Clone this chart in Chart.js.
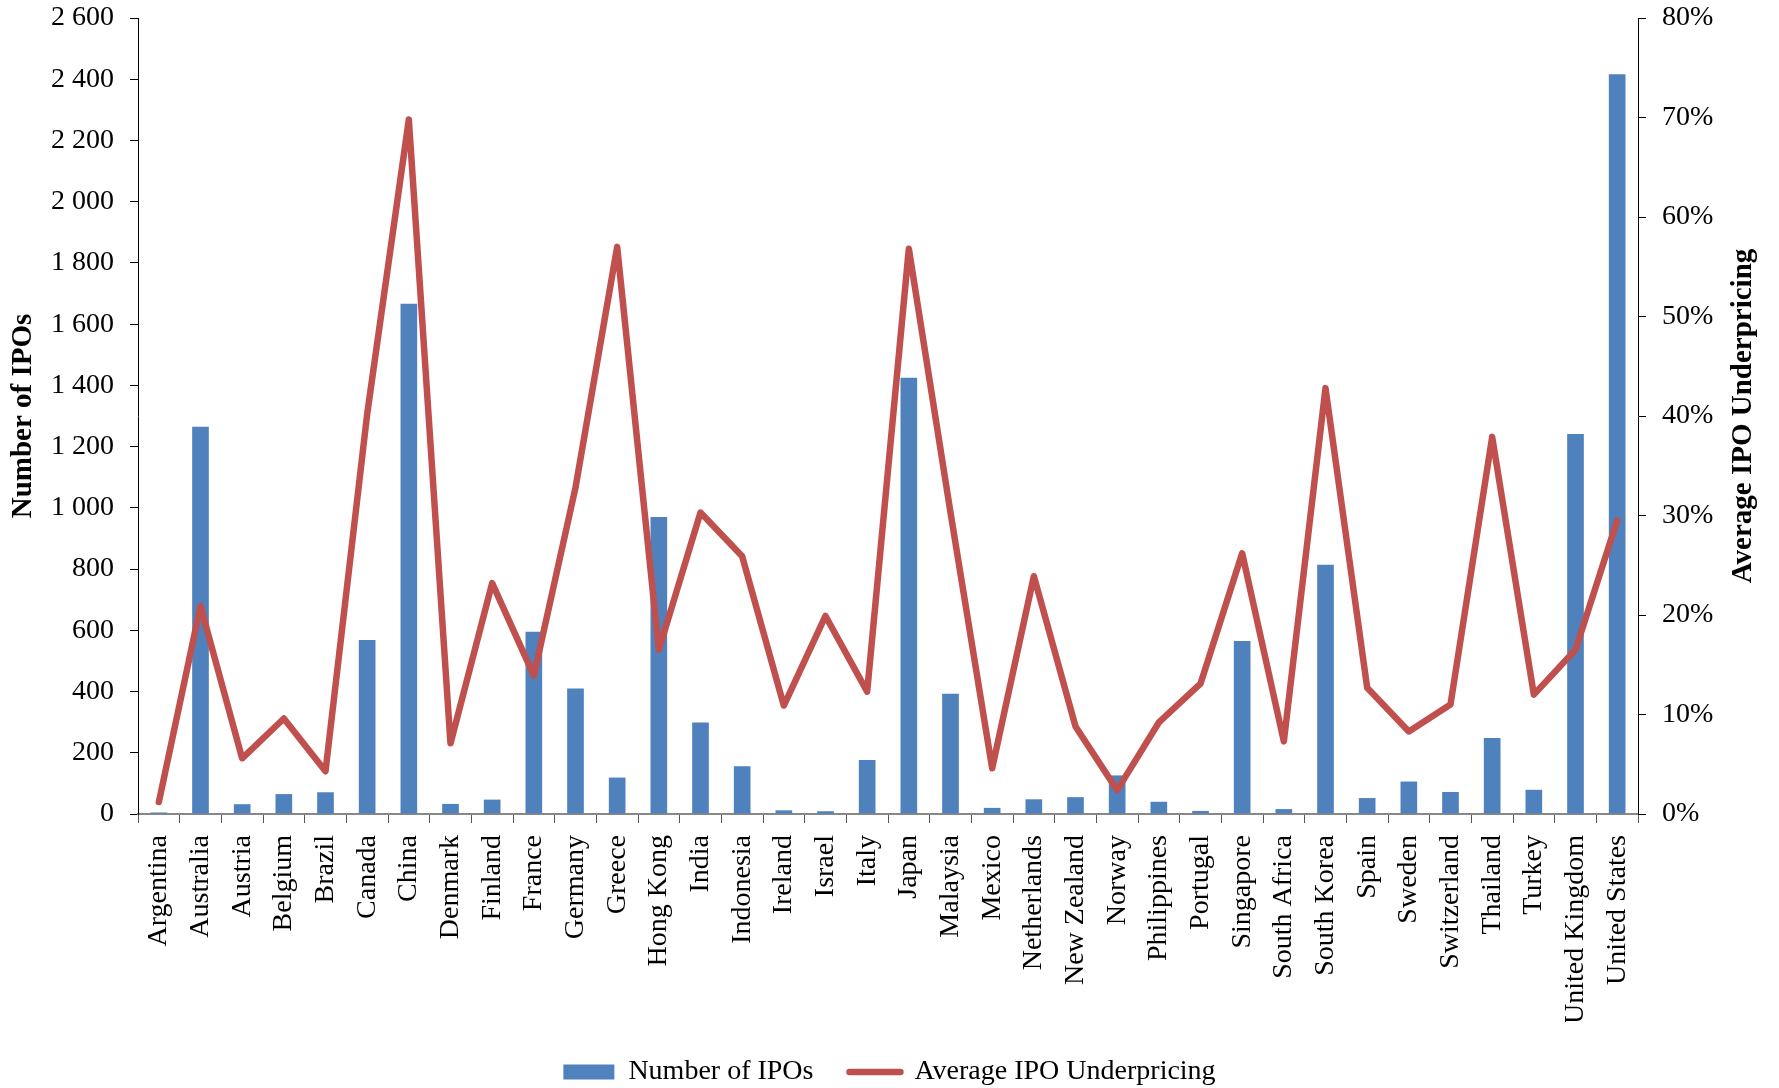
<!DOCTYPE html>
<html>
<head>
<meta charset="utf-8">
<script src="https://cdn.jsdelivr.net/npm/chart.js@4/dist/chart.umd.min.js"></script>
<style>
  html, body { margin: 0; padding: 0; background: #fff; }
  #wrap { width: 1779px; height: 1088px; position: relative; }
</style>
</head>
<body>
<div id="wrap"><canvas id="c"></canvas></div>
<script>
const countries = ['Argentina','Australia','Austria','Belgium','Brazil','Canada','China','Denmark','Finland','France','Germany','Greece','Hong Kong','India','Indonesia','Ireland','Israel','Italy','Japan','Malaysia','Mexico','Netherlands','New Zealand','Norway','Philippines','Portugal','Singapore','South Africa','South Korea','Spain','Sweden','Switzerland','Thailand','Turkey','United Kingdom','United States'];

const ipoCounts = [5, 1265, 32, 65, 71, 568, 1667, 33, 47, 595, 410, 119, 970, 299, 156, 12, 9, 176, 1425, 393, 20, 48, 55, 126, 40, 10, 565, 16, 814, 52, 106, 72, 248, 79, 1241, 2416];

// average first-day underpricing, in percent
const underpricing = [1.2, 20.9, 5.6, 9.6, 4.3, 40.2, 69.8, 7.1, 23.2, 13.9, 32.8, 57.0, 16.5, 30.3, 25.9, 10.9, 19.9, 12.3, 56.8, 30.3, 4.6, 23.9, 8.8, 2.4, 9.2, 13.1, 26.2, 7.3, 42.8, 12.7, 8.3, 11.0, 37.9, 12.0, 16.5, 29.5];

const seriesNames = ['Number of IPOs', 'Average IPO Underpricing'];
const rightTitle = 'Average IPO Underpricing';

const FONT = "'Liberation Serif', 'Times New Roman', serif";
const PLOT_BOTTOM = 814;
const PAD_BOTTOM = -8;

const rightTitlePlugin = {
  id: 'rightTitle',
  afterDraw(chart) {
    const { ctx, chartArea } = chart;
    ctx.save();
    ctx.translate(1744, (chartArea.top + chartArea.bottom) / 2);
    ctx.rotate(-Math.PI / 2);
    ctx.font = 'bold 29px ' + FONT;
    ctx.fillStyle = '#000';
    ctx.textAlign = 'center';
    ctx.textBaseline = 'middle';
    ctx.fillText(rightTitle, 0, 0);
    ctx.restore();
  }
};

const groupThousands = v => String(v).replace(/\B(?=(\d{3})+(?!\d))/g, ' ');

// vertical axes: fixed width, no extra label overhang padding
const fixVertical = w => s => { s.width = w; s.paddingTop = 0; s.paddingBottom = 0; };

new Chart(document.getElementById('c'), {
  data: {
    labels: countries,
    datasets: [
      {
        type: 'bar',
        label: seriesNames[0],
        data: ipoCounts,
        yAxisID: 'y',
        backgroundColor: '#4F81BD',
        borderWidth: 0,
        categoryPercentage: 0.8,
        barPercentage: 0.5,
        order: 1
      },
      {
        type: 'line',
        label: seriesNames[1],
        data: underpricing,
        yAxisID: 'y1',
        borderColor: '#C0504D',
        backgroundColor: '#C0504D',
        borderWidth: 6.5,
        borderJoinStyle: 'round',
        borderCapStyle: 'round',
        pointRadius: 0,
        tension: 0,
        order: 0
      }
    ]
  },
  options: {
    responsive: true,
    maintainAspectRatio: false,
    animation: false,
    layout: { padding: { top: 18, left: 0, right: 0, bottom: PAD_BOTTOM } },
    plugins: {
      tooltip: { enabled: false },
      legend: {
        position: 'bottom',
        labels: {
          font: { family: FONT, size: 28 },
          color: '#000',
          usePointStyle: true,
          pointStyleWidth: 51,
          boxHeight: 15,
          padding: 36,
          sort: (a, b) => a.datasetIndex - b.datasetIndex,
          generateLabels(chart) {
            const items = Chart.defaults.plugins.legend.labels.generateLabels(chart);
            items.forEach(it => {
              const ds = chart.data.datasets[it.datasetIndex];
              if (ds.type === 'line') {
                it.pointStyle = 'line';
                it.lineWidth = 6.5;
                it.lineCap = 'round';
              } else {
                it.pointStyle = 'rect';
                it.lineWidth = 0;
              }
            });
            return items;
          }
        }
      }
    },
    scales: {
      x: {
        offset: true,
        grid: { offset: true, drawOnChartArea: false, tickLength: 9, color: '#555', tickWidth: 1 },
        border: { color: '#888', width: 2 },
        ticks: {
          autoSkip: false,
          maxRotation: 90,
          minRotation: 90,
          padding: 12,
          color: '#000',
          font: { family: FONT, size: 28 }
        },
        afterFit(s) {
          const lg = s.chart.legend ? s.chart.legend.height : 0;
          s.height = s.chart.height - PAD_BOTTOM - PLOT_BOTTOM - lg;
        }
      },
      y: {
        position: 'left',
        min: 0,
        max: 2600,
        grid: { drawOnChartArea: false, tickLength: 8, color: '#000' },
        border: { color: '#000', width: 1 },
        ticks: {
          stepSize: 200,
          padding: 16,
          color: '#000',
          font: { family: FONT, size: 28 },
          callback: v => groupThousands(v)
        },
        title: {
          display: true,
          text: seriesNames[0],
          color: '#000',
          font: { family: FONT, size: 29, weight: 'bold' },
          padding: { top: 6, bottom: 0 }
        },
        afterFit: fixVertical(138)
      },
      y1: {
        position: 'right',
        min: 0,
        max: 80,
        grid: { drawOnChartArea: false, tickLength: 8, color: '#000' },
        border: { color: '#000', width: 1 },
        ticks: {
          stepSize: 10,
          padding: 16,
          color: '#000',
          font: { family: FONT, size: 28 },
          callback: v => v + '%'
        },
        afterFit: fixVertical(141)
      }
    }
  },
  plugins: [rightTitlePlugin]
});
</script>
</body>
</html>
